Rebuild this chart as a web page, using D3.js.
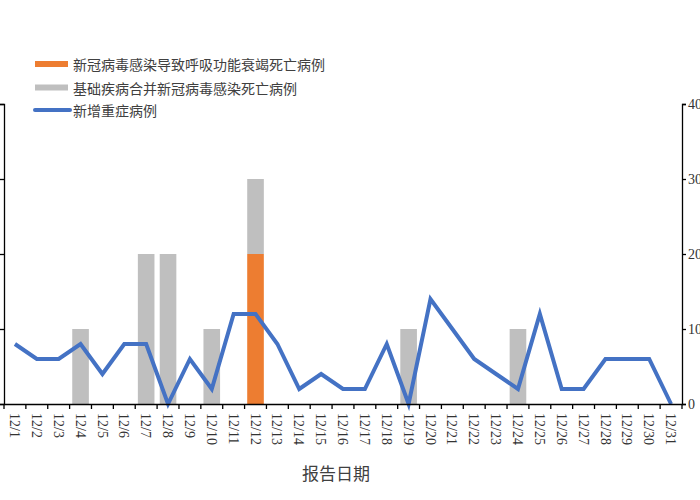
<!DOCTYPE html>
<html>
<head>
<meta charset="utf-8">
<script src="https://cdn.jsdelivr.net/npm/d3@7/dist/d3.min.js"></script>
<style>
  body { margin: 0; background: #fff; }
  svg { display: block; }
</style>
</head>
<body>
<div id="chart"></div>
<script>
// report dates
var days = ["12/1","12/2","12/3","12/4","12/5","12/6","12/7","12/8","12/9","12/10",
            "12/11","12/12","12/13","12/14","12/15","12/16","12/17","12/18","12/19","12/20",
            "12/21","12/22","12/23","12/24","12/25","12/26","12/27","12/28","12/29","12/30","12/31"];
// deaths from respiratory failure caused by infection (orange)
var respDeaths = [0,0,0,0,0,0,0,0,0,0, 0,2,0,0,0,0,0,0,0,0, 0,0,0,0,0,0,0,0,0,0,0];
// deaths with underlying disease plus infection (gray)
var baseDeaths = [0,0,0,1,0,0,2,2,0,1, 0,1,0,0,0,0,0,0,1,0, 0,0,0,1,0,0,0,0,0,0,0];
// new severe cases (blue line, right axis)
var severeCases = [8,6,6,8,4,8,8,0,6,2, 12,12,8,2,4,2,2,8,0,14, 10,6,4,2,12,2,2,6,6,6,0];

var leftTicks = [0,1,2,3,4];
var rightTicks = [0,10,20,30,40];

var seriesNames = ["新冠病毒感染导致呼吸功能衰竭死亡病例", "基础疾病合并新冠病毒感染死亡病例", "新增重症病例"];
var colors = ["#ED7D31", "#BFBFBF", "#4472C4"];

(function () {
    var W = 700, H = 500;
    var m = {left: 4, right: 682, top: 104, bottom: 404};

    var svg = d3.select("#chart").append("svg")
        .attr("width", W)
        .attr("height", H);

    var x = d3.scaleBand().domain(days).range([m.left, m.right]).padding(0);
    var yL = d3.scaleLinear().domain([0, 4]).range([m.bottom, m.top]);
    var yR = d3.scaleLinear().domain([0, 40]).range([m.bottom, m.top]);
    var barW = x.step() * 0.76;

    // stacked bars: orange at the bottom, gray on top
    var rows = days.map(function (d, i) {
        return {day: d, resp: respDeaths[i], base: baseDeaths[i]};
    });
    var stack = d3.stack().keys(["resp", "base"])(rows);

    svg.append("g").selectAll("g")
        .data(stack)
        .enter().append("g")
        .attr("fill", function (d, i) { return colors[i]; })
        .selectAll("rect")
        .data(function (d) { return d; })
        .enter().append("rect")
        .attr("x", function (d) { return x(d.data.day) + (x.step() - barW) / 2; })
        .attr("width", barW)
        .attr("y", function (d) { return yL(d[1]); })
        .attr("height", function (d) { return yL(d[0]) - yL(d[1]); });

    // line
    var line = d3.line()
        .x(function (d, i) { return x(days[i]) + x.bandwidth() / 2; })
        .y(function (d) { return yR(d); });

    svg.append("path")
        .datum(severeCases)
        .attr("fill", "none")
        .attr("stroke", colors[2])
        .attr("stroke-width", 4)
        .attr("d", line);

    // x axis: labels centered in the bands, tick marks on the boundaries
    var xAxis = svg.append("g")
        .attr("transform", "translate(0," + m.bottom + ")")
        .call(d3.axisBottom(x).tickSize(0).tickPadding(0));
    xAxis.select(".domain").attr("stroke", "#000").attr("stroke-width", 1.3);
    xAxis.selectAll("text")
        .attr("transform", "rotate(90)")
        .attr("x", 9)
        .attr("y", 0)
        .attr("dy", "0.35em")
        .style("text-anchor", "start")
        .style("font-family", "'Liberation Serif', serif")
        .style("font-size", "14px")
        .attr("fill", "#333");

    var bounds = d3.range(days.length + 1).map(function (i) { return m.left + i * x.step(); });
    xAxis.selectAll("line.bound")
        .data(bounds)
        .enter().append("line")
        .attr("class", "bound")
        .attr("x1", function (d) { return d; })
        .attr("x2", function (d) { return d; })
        .attr("y1", 0)
        .attr("y2", 5)
        .attr("stroke", "#000")
        .attr("stroke-width", 1.3);

    // left axis (labels fall off the page, as in the original)
    var lAxis = svg.append("g")
        .attr("transform", "translate(" + m.left + ",0)")
        .call(d3.axisLeft(yL).tickValues(leftTicks).tickSize(4).tickSizeOuter(4).tickPadding(3));

    // right axis
    var rAxis = svg.append("g")
        .attr("transform", "translate(" + m.right + ",0)")
        .call(d3.axisRight(yR).tickValues(rightTicks).tickSize(4).tickSizeOuter(4).tickPadding(2));

    [lAxis, rAxis].forEach(function (a) {
        a.selectAll("path, line").attr("stroke", "#000").attr("stroke-width", 1.3);
        a.selectAll("text")
            .style("font-family", "'Liberation Serif', serif")
            .style("font-size", "14px")
            .attr("fill", "#333");
    });

    // x axis title
    svg.append("text")
        .attr("x", 336)
        .attr("y", 472)
        .attr("text-anchor", "middle")
        .attr("dominant-baseline", "central")
        .style("font-family", "'Noto Sans CJK SC', sans-serif")
        .style("font-size", "17px")
        .attr("fill", "#404040")
        .text("报告日期");

    // legend
    var legendY = [64, 87.5, 110];
    var legend = svg.append("g");
    seriesNames.forEach(function (name, i) {
        if (i < 2) {
            legend.append("rect")
                .attr("x", 35).attr("y", legendY[i] - 3)
                .attr("width", 33).attr("height", 6)
                .attr("fill", colors[i]);
        } else {
            legend.append("line")
                .attr("x1", 35).attr("x2", 70)
                .attr("y1", legendY[i]).attr("y2", legendY[i])
                .attr("stroke", colors[i])
                .attr("stroke-width", 4)
                .attr("stroke-linecap", "round");
        }
        legend.append("text")
            .attr("x", 73)
            .attr("y", legendY[i])
            .attr("dominant-baseline", "central")
            .style("font-family", "'Noto Sans CJK SC', sans-serif")
            .style("font-size", "14px")
            .attr("fill", "#404040")
            .text(name);
    });
})();
</script>
</body>
</html>
